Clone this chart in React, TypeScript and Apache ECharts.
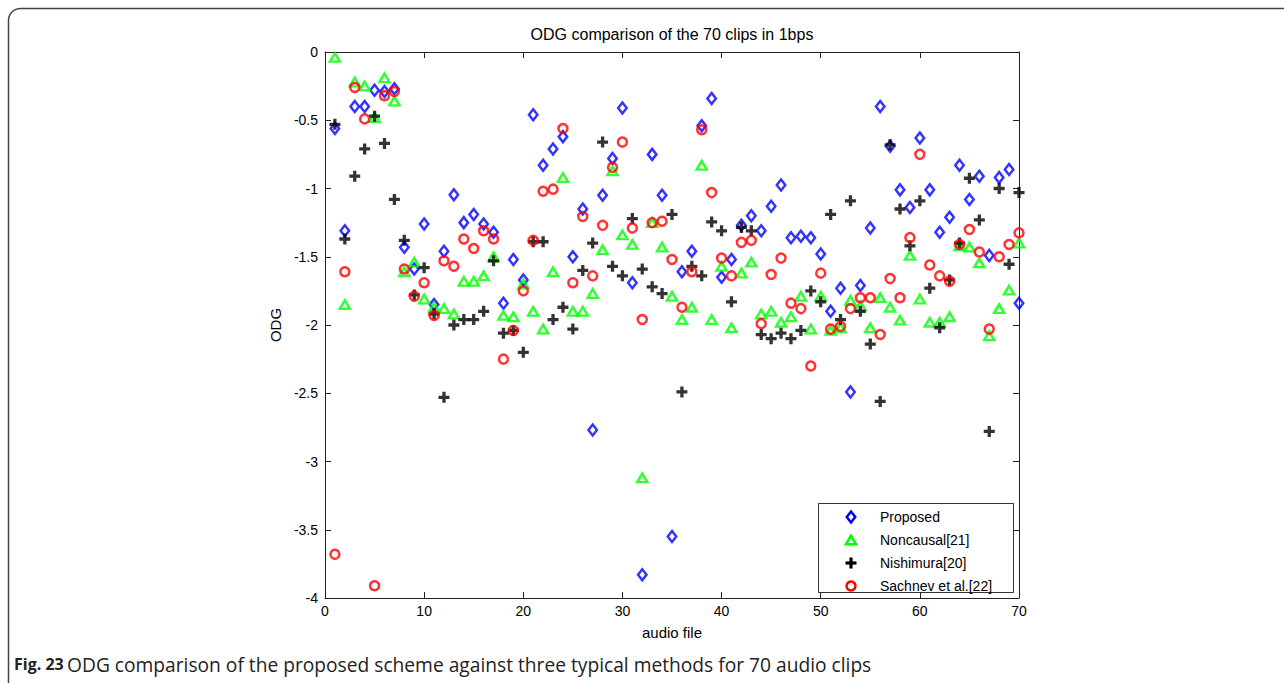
import React, { useEffect, useRef } from "react";
import * as echarts from "echarts";

const titleText = "ODG comparison of the 70 clips in 1bps";
const xName = "audio file";
const yName = "ODG";
const seriesNames = ["Proposed", "Noncausal[21]", "Nishimura[20]", "Sachnev et al.[22]"];

// ODG per audio clip 1..70
const proposed = [
  -0.56, -1.31, -0.40, -0.40, -0.28, -0.29, -0.27, -1.43, -1.59, -1.26,
  -1.85, -1.46, -1.045, -1.25, -1.19, -1.26, -1.32, -1.84, -1.52, -1.67,
  -0.46, -0.83, -0.71, -0.62, -1.50, -1.15, -2.77, -1.05, -0.78, -0.41,
  -1.69, -3.83, -0.75, -1.05, -3.55, -1.61, -1.46, -0.54, -0.34, -1.65,
  -1.52, -1.27, -1.20, -1.31, -1.13, -0.975, -1.36, -1.35, -1.36, -1.48,
  -1.90, -1.73, -2.49, -1.71, -1.29, -0.40, -0.69, -1.01, -1.14, -0.63,
  -1.01, -1.32, -1.21, -0.83, -1.08, -0.91, -1.49, -0.92, -0.86, -1.84,
];
const noncausal = [
  -0.04, -1.85, -0.22, -0.25, -0.48, -0.19, -0.36, -1.61, -1.54, -1.81,
  -1.87, -1.88, -1.92, -1.68, -1.68, -1.64, -1.50, -1.93, -1.94, -1.70,
  -1.90, -2.03, -1.61, -0.92, -1.90, -1.90, -1.77, -1.45, -0.87, -1.34,
  -1.41, -3.12, -1.25, -1.43, -1.79, -1.96, -1.87, -0.83, -1.96, -1.57,
  -2.02, -1.62, -1.54, -1.92, -1.90, -1.98, -1.94, -1.79, -2.03, -1.79,
  -2.04, -2.02, -1.82, -1.86, -2.02, -1.80, -1.87, -1.965, -1.49, -1.81,
  -1.98, -1.98, -1.94, -1.42, -1.43, -1.545, -2.08, -1.88, -1.745, -1.40,
];
const nishimura = [
  -0.53, -1.37, -0.91, -0.71, -0.47, -0.67, -1.08, -1.38, -1.78, -1.58,
  -1.92, -2.53, -2.00, -1.96, -1.96, -1.90, -1.53, -2.06, -2.04, -2.20,
  -1.39, -1.39, -1.96, -1.87, -2.03, -1.60, -1.40, -0.66, -1.57, -1.64,
  -1.22, -1.59, -1.72, -1.77, -1.19, -2.49, -1.57, -1.64, -1.245, -1.31,
  -1.83, -1.285, -1.31, -2.07, -2.10, -2.06, -2.10, -2.04, -1.75, -1.83,
  -1.19, -1.96, -1.09, -1.90, -2.14, -2.56, -0.68, -1.15, -1.42, -1.09,
  -1.73, -2.02, -1.67, -1.40, -0.925, -1.23, -2.78, -1.00, -1.555, -1.03,
];
const sachnev = [
  -3.68, -1.61, -0.26, -0.49, -3.91, -0.32, -0.29, -1.59, -1.79, -1.69,
  -1.93, -1.53, -1.57, -1.37, -1.44, -1.31, -1.37, -2.25, -2.04, -1.75,
  -1.38, -1.02, -1.005, -0.56, -1.69, -1.205, -1.64, -1.27, -0.845, -0.66,
  -1.29, -1.96, -1.25, -1.24, -1.52, -1.87, -1.61, -0.57, -1.03, -1.51,
  -1.64, -1.395, -1.38, -1.99, -1.63, -1.51, -1.84, -1.88, -2.30, -1.62,
  -2.03, -2.01, -1.88, -1.80, -1.80, -2.07, -1.66, -1.80, -1.36, -0.75,
  -1.56, -1.64, -1.68, -1.41, -1.30, -1.465, -2.03, -1.50, -1.41, -1.325,
];

const captionBold = "Fig. 23";
const captionText = "ODG comparison of the proposed scheme against three typical methods for 70 audio clips";

const PLUS = "path://M3.5,0H6.5V3.5H10V6.5H6.5V10H3.5V6.5H0V3.5H3.5Z";
const FONT = "'Liberation Sans', Arial, sans-serif";

const toPairs = (arr: number[]) => arr.map((v, i) => [i + 1, v]);

export default function App() {
  const ref = useRef<HTMLDivElement>(null);
  useEffect(() => {
    if (!ref.current) return;
    const chart = echarts.init(ref.current, null, { renderer: "svg" });
    const axisCommon = {
      axisLine: { show: true, onZero: false, lineStyle: { color: "#222", width: 1 } },
      axisTick: { show: true, inside: true, length: 6, lineStyle: { color: "#222" } },
      splitLine: { show: false },
    };
    const lx = 851;
    const ltx = 880;
    const ly = [517, 540, 563, 586];
    chart.setOption({
      animation: false,
      backgroundColor: "#fff",
      grid: { left: 325, top: 52, width: 694, height: 546 },
      xAxis: [
        {
          type: "value", min: 0, max: 70, interval: 10, position: "bottom",
          name: xName, nameLocation: "middle", nameGap: 27,
          nameTextStyle: { fontSize: 15, fontFamily: FONT, color: "#000" },
          axisLabel: { fontSize: 14, fontFamily: FONT, color: "#000", margin: 6 },
          ...axisCommon,
        },
        {
          type: "value", min: 0, max: 70, interval: 10, position: "top",
          axisLabel: { show: false }, ...axisCommon,
        },
      ],
      yAxis: [
        {
          type: "value", min: -4, max: 0, interval: 0.5, position: "left",
          name: yName, nameLocation: "middle", nameGap: 40,
          nameTextStyle: { fontSize: 15, fontFamily: FONT, color: "#000" },
          axisLabel: { fontSize: 14, fontFamily: FONT, color: "#000", margin: 7 },
          ...axisCommon,
        },
        {
          type: "value", min: -4, max: 0, interval: 0.5, position: "right",
          axisLabel: { show: false }, ...axisCommon,
        },
      ],
      series: [
        {
          name: seriesNames[0], type: "scatter", data: toPairs(proposed),
          symbol: "diamond", symbolSize: [8.5, 11],
          itemStyle: { color: "rgba(0,0,0,0)", borderColor: "#0000ff", borderWidth: 2.5 },
        },
        {
          name: seriesNames[1], type: "scatter", data: toPairs(noncausal),
          symbol: "triangle", symbolSize: [10, 8.5],
          itemStyle: { color: "rgba(0,0,0,0)", borderColor: "#00ff00", borderWidth: 2.5 },
        },
        {
          name: seriesNames[2], type: "scatter", data: toPairs(nishimura),
          symbol: PLUS, symbolSize: 11,
          itemStyle: { color: "#000" },
        },
        {
          name: seriesNames[3], type: "scatter", data: toPairs(sachnev),
          symbol: "circle", symbolSize: 9,
          itemStyle: { color: "rgba(0,0,0,0)", borderColor: "#ff0000", borderWidth: 2.5 },
        },
      ],
      graphic: [
        {
          type: "rect", z: 0, silent: true,
          shape: { x: 8.5, y: 8.5, width: 1300, height: 720, r: 12 },
          style: { fill: "none", stroke: "#444", lineWidth: 1.5 },
        },
        {
          type: "text", z: 100,
          style: {
            x: 672, y: 34, text: titleText, fontSize: 16, fontFamily: FONT, fill: "#000",
            textAlign: "center", textVerticalAlign: "middle",
          },
        },
        {
          type: "text", z: 100,
          style: {
            x: 14, y: 664, text: `{b|${captionBold}} {n|${captionText}}`,
            textVerticalAlign: "middle",
            rich: {
              b: { fontSize: 16, fontWeight: "bold", fontFamily: "'Open Sans', sans-serif", fill: "#222" },
              n: { fontSize: 19.2, fontFamily: "'Open Sans', sans-serif", fill: "#222" },
            },
          },
        },
        {
          type: "group", z: 100,
          children: [
            {
              type: "rect", shape: { x: 818.5, y: 503.5, width: 195, height: 89 },
              style: { fill: "#fff", stroke: "#333", lineWidth: 1 },
            },
            {
              type: "polygon",
              shape: { points: [[lx, ly[0] - 5.5], [lx + 4.25, ly[0]], [lx, ly[0] + 5.5], [lx - 4.25, ly[0]]] },
              style: { fill: "none", stroke: "#0000ff", lineWidth: 2.5 },
            },
            {
              type: "polygon",
              shape: { points: [[lx, ly[1] - 4.25], [lx + 5, ly[1] + 4.25], [lx - 5, ly[1] + 4.25]] },
              style: { fill: "none", stroke: "#00ff00", lineWidth: 2.5 },
            },
            { type: "rect", shape: { x: lx - 5.5, y: ly[2] - 1.6, width: 11, height: 3.2 }, style: { fill: "#000" } },
            { type: "rect", shape: { x: lx - 1.6, y: ly[2] - 5.5, width: 3.2, height: 11 }, style: { fill: "#000" } },
            {
              type: "circle", shape: { cx: lx, cy: ly[3], r: 4.5 },
              style: { fill: "none", stroke: "#ff0000", lineWidth: 2.5 },
            },
            ...seriesNames.map((n, i) => ({
              type: "text",
              style: {
                x: ltx, y: ly[i], text: n, fontSize: 14, fontFamily: FONT, fill: "#000",
                textVerticalAlign: "middle",
              },
            })),
          ],
        },
      ],
    });
    return () => chart.dispose();
  }, []);
  return (
    <div
      ref={ref}
      style={{ position: "absolute", left: 0, top: 0, width: 1284, height: 683 }}
    />
  );
}
